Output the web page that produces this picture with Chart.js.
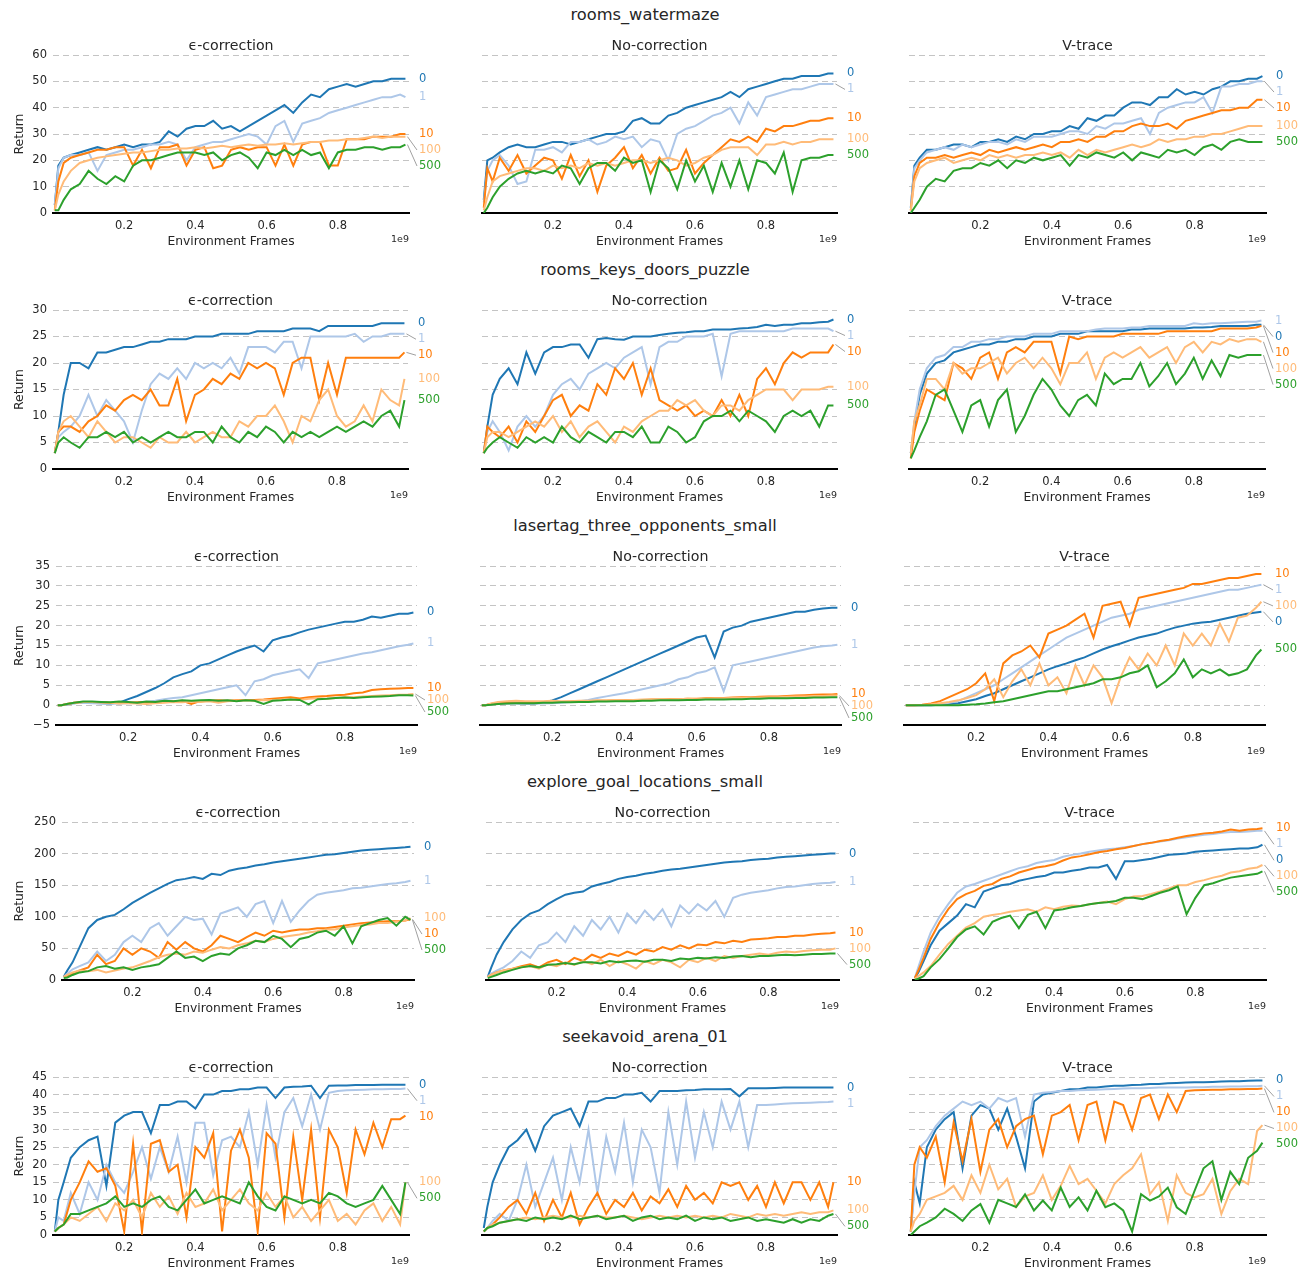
<!DOCTYPE html>
<html><head><meta charset="utf-8">
<script src="https://cdn.jsdelivr.net/npm/chart.js@4.4.0/dist/chart.umd.min.js"></script>
<style>
html,body{margin:0;padding:0;background:#fff;}
#wrap{position:relative;width:1309px;height:1275px;overflow:hidden;font-family:"DejaVu Sans",sans-serif;color:#262626;}
.rowtitle{position:absolute;left:0;width:1290px;text-align:center;font-size:16.3px;line-height:20px;}
canvas{position:absolute;}
</style></head><body><div id="wrap"></div>
<script>
// ---------- data ----------
const X = [0.005,0.015,0.03,0.05,0.075,0.1,0.125,0.15,0.175,0.2,0.225,0.25,0.275,0.3,0.325,0.35,0.375,0.4,0.425,0.45,0.475,0.5,0.525,0.55,0.575,0.6,0.625,0.65,0.675,0.7,0.725,0.75,0.775,0.8,0.825,0.85,0.875,0.9,0.925,0.95,0.975,0.99];
const SERIES = ['0','1','10','100','500'];
const LEVELS = ['rooms_watermaze','rooms_keys_doors_puzzle','lasertag_three_opponents_small','explore_goal_locations_small','seekavoid_arena_01'];
const METHODS = ['\u03f5-correction','No-correction','V-trace'];
const Y_MIN = [0,0,-5,0,0];
const Y_MAX = [60,30,35,250,45];
const Y_STEP = [10,5,5,50,5];
const X_TICKS = [0.2,0.4,0.6,0.8];

const watermaze_eps = [
 [3,18,21,22,23,24,25,24,25,26,25,26,26,27,31,29,32,33,33,35,32,33,31,33,35,37,39,41,38,42,45,44,47,48,49,48,49,50,50,51,51,51],
 [3,17,21,22,22,23,16,22,23,24,24,25,26,26,27,26,20,25,26,27,27,28,29,30,29,26,33,35,27,34,35,36,38,39,40,41,42,43,44,44,45,44],
 [1,12,19,21,22,23,24,24,25,25,18,24,17,25,25,26,18,24,25,17,18,24,25,24,25,25,18,26,18,26,27,27,18,18,28,28,28,29,29,29,30,30],
 [1,7,12,16,19,20,21,21.5,22,22.5,23,23,23.5,24,24,24.5,24.5,25,24.5,25,25.5,25,25.5,26,25.5,26,26,26.5,26,26.5,27,27,27.5,27.5,28,28,28.5,29,28.5,29,29,29],
 [1,1,5,9,11,16,13,11,14,12,18,20,20,21,22,23,23,23,22,23,20,22,23,21,17,23,22,24,22,24,22,23,17,23,24,24,25,25,24,25,25,26]];
const watermaze_noc = [
 [5,20,21,23,25,26,25,25,26,27,27,26,27,28,29,30,30,31,35,36,34,34,37,38,40,41,42,43,44,46,44,47,48,49,50,51,51,52,52,52,53,53],
 [4,16,20,22,18,11,12,24,24,25,23,27,27,28,26,27,29,28,29,25,28,27,20,30,32,33,35,37,38,40,34,42,37,44,45,46,47,47,48,49,49,49],
 [2,17,12,21,16,22,15,18,21,20,13,22,14,20,8,18,21,25,17,22,15,21,16,17,24,15,19,22,25,28,27,29,27,32,31,33,33,34,35,35,36,36],
 [1,6,12,14,15,16,17,17,16,18,17,18,17,19,18,19,18,19,20,20,19,20,21,20,18,19,21,22,24,25,25,25,22,26,26,27,26,27,27,28,28,28],
 [0,2,6,10,13,15,16,15,16,15,18,17,11,17,19,19,16,21,19,20,8,20,17,9,20,12,18,8,19,10,20,9,20,19,15,23,8,20,21,21,22,22]];
const watermaze_vt = [
 [2,18,21,24,24,25,26,26,25,27,27,28,27,29,28,30,30,31,31,33,32,36,35,37,37,40,42,42,41,44,44,47,45,46,45,47,48,50,50,51,51,52],
 [2,17,20,23,24,25,24,26,25,26,27,27,26,28,27,29,29,29,30,31,31,30,33,32,34,34,35,36,30,38,40,41,42,42,44,38,48,48,49,49,50,50],
 [1,14,19,21,21,22,21,22,23,22,24,23,24,25,24,25,26,25,27,27,28,27,29,29,31,31,33,34,33,33,34,32,35,36,37,38,39,39,40,40,43,43],
 [1,12,17,19,20,21,19,20,21,20,22,21,22,21,22,22,23,22,23,21,24,22,24,23,24,25,26,25,26,28,27,28,28,29,29,30,30,31,32,33,33,33],
 [0,2,5,10,13,12,16,17,17,19,18,20,17,20,19,21,20,21,22,18,22,21,23,22,21,23,20,23,22,21,24,23,24,22,25,26,24,27,28,27,27,27]];

const keys_eps = [
 [3,7,14,20,20,19,22,22,22.5,23,23,23.5,24,24,24.5,24.5,24.5,25,25,25,25.5,25.5,25.5,25.5,26,26,26,26,26.5,26.5,26.5,26,27,27,27,27,27,27,27.5,27.5,27.5,27.5],
 [3,6,7,8,10,14,10,13,11,9,5,11,16,18,17,19,17,20,19,20,19,21,18,23,23,23,22,24,24,19,25,25,25,25,25,25.5,24,25,25,25.5,25.5,25.5],
 [3,7,8,8,7,9,10,12,11,13,14,13,15,12,12,17,9,14,15,17,16,18,17,20,19,20,19,14,20,21,21,13,20,14,21,21,21,21,21,21,21,22],
 [3,7,9,10,8,6,9,7,5,6,6,5,4,6,5,5,7,5,6,7,6,6,9,8,10,10,12,9,5,10,9,13,15,10,8,9,12,9,15,13,12,17],
 [3,5,6,5,4,6,6,7,6,7,5,6,5,6,7,6,6,7,7,5,8,6,5,7,6,8,7,5,7,6,7,6,7,8,7,8,9,8,10,11,8,13]];
const keys_noc = [
 [3,8,14,17,19,16,22,18,22,23,23,23.5,23.5,21,24.5,24.7,24.5,24.4,25,25,25,25.3,25.5,25.7,25.8,26,26,26.3,26.3,26.3,26.5,26.6,26.8,27.2,27,27.2,27.2,27.5,27.5,27.7,27.8,28.2],
 [3,7,9,7,3.5,8,10,8,10,14,16,17,15,18,19,20,19,21,22,23,16,23,24,24,25,25,25,25.5,17.5,25.5,26,26,26,26,26,26,26.5,26.5,26.5,26.5,26.5,26],
 [3,8,7,6,8,5,9,7,10,13,14,10,12,11,16,14,19,17,20,14,19,13,12,11,12,10,11,10,13,10,14,10,17,19,16,20,22,21,22,22,22,23.5],
 [3,6,7,7,6,7,8,9,8,10,7,9,6,8,9,7,5,8,7,9,10,11,11,13,12,13,11,10,12,12,11,13,14,15,15,15,13,15,15,15,15.5,15.5],
 [3,4,5,6,5,4,6,5,6,5,8,6,5,7,6,5,7,7,6,8,5,5,8,7,5,6,9,10,10,11,9,11,10,9,7,10,11,10,11,8,12,12]];
const keys_vt = [
 [3,8,14,18,20,20.5,22,22.5,23,23.5,23.5,24,24,24.5,24.5,25,25,25,25.5,25.5,25.5,26,26,26,26,26,26.3,26.3,26.5,26.5,26.5,26.5,26.5,26.7,26.7,26.8,27,27,27,27,27.2,27.2],
 [3,9,15,19,21,21.5,23,23,24,24,24.5,24.5,25,25,25,25.5,25.5,25.5,26,26,26,26,26.3,26.5,26.5,26.5,26.7,26.7,27,27,27,27,27,27.5,27.3,27.5,27.5,27.6,27.7,27.8,27.8,28],
 [2,7,11,15,14,13,20,19,17,21,22,17,22,23,22,24,24,24,18,25,24.5,25,25,25,25,25.5,25.5,25.5,25.5,25.5,26,26,26,26,26,26,26.5,26.5,26.5,26.5,26.7,27],
 [3,9,12,17,17,15,20,18,19,19,20,21,18,20,21,19,21,19,16,20,20,22,17,21,22,21,22,23,21,22,23,20,23,24,22,24,23.5,24.5,24,24.5,24.5,24],
 [2,3.5,6,9,14,15,11,7,12,13,8,13,15,7,10,14,17,15,12,10,13,14,12,18,16,17,17,20,15.6,17.5,20,16,18,21,17,20.5,17.5,21.5,21,21.5,21.5,21.5]];

const laser_eps = [
 [0,0,0.2,0.5,0.7,0.6,0.5,0.4,0.6,1.5,2.3,3.3,4.3,5.5,7,7.8,8.5,10,10.5,11.5,12.5,13.5,14.3,15,13.5,16.3,17,17.5,18.3,19,19.5,20,20.5,21,21,21.5,22.3,22,22.5,23,23,23.3],
 [0,0,0.2,0.5,0.6,0.5,0.4,0.4,0.4,0.5,0.6,0.8,1.1,1.5,1.8,2,2.5,3,3.5,4,4.5,5,2.5,6,6.5,7.5,8,8.5,9,6.8,10.5,11,11.5,12,12.5,13,13.3,13.8,14.3,14.8,15.2,15.5],
 [0,0,0.3,0.6,0.8,0.8,0.7,0.6,0.5,0.6,0.7,0.8,0.8,0.9,1,1.1,0.3,1,1.1,1.2,1.1,1.2,1.3,1.3,1.4,1.6,1.8,2,1.7,2,2.2,2.3,2.5,2.6,3,3.2,3.8,4,4.1,4.2,4.3,4.3],
 [0,0,0.3,0.6,0.8,0.8,0.7,0.6,0.5,0.5,0.4,0.3,0.5,0.6,0.8,0.7,0.9,0.8,1,0.6,1,1.1,1.2,1.1,1.3,1.2,1.4,1.5,1.3,1.6,1.7,1.6,1.8,2,2,2.2,2.3,2.4,2.5,2.6,2.7,2.8],
 [0,0,0.3,0.6,0.9,0.9,0.8,0.7,0.9,0.8,0.6,0.9,0.8,1.1,1,1.2,1.1,1.2,1.3,1.1,1.2,1,1.2,1.1,0.3,1.1,1.2,1.4,1.3,0.2,1.5,1.6,1.8,1.9,1.8,2,2.1,2.2,2.3,2.5,2.5,2.4]];
const laser_noc = [
 [0,0,0.2,0.4,0.5,0.5,0.4,0.4,0.6,1.2,2,3,4,5,6,7,8,9,10,11,12,13,14,15,16,17,17.5,12,18.5,19.5,20,21,21.5,22,22.5,23,23.5,23.5,24,24.3,24.5,24.5],
 [0,0,0.2,0.4,0.5,0.5,0.4,0.4,0.4,0.5,0.6,0.8,1,1.3,1.8,2.2,2.6,3,3.5,4,4.5,5,5.5,6.5,7,8,8.5,9.5,3.5,10,10.5,11,11.5,12,12.5,13,13.5,14,14.5,14.8,15,15.2],
 [0,0,0.3,0.6,0.8,0.9,0.8,0.7,0.8,0.9,0.8,0.9,1,1,1.1,1.1,1.2,1.2,1.3,1.3,1.4,1.4,1.5,1.5,1.6,1.6,1.7,1.8,1.8,1.9,2,2,2.1,2.2,2.2,2.3,2.4,2.5,2.6,2.7,2.7,2.8],
 [0,0,0.4,0.8,1,1.1,1,1,1,1.1,1,1,1.1,1.1,1.2,1.2,1.3,1.2,1.3,1.4,1.4,1.5,1.4,1.5,1.6,1.5,1.6,1.7,1.7,1.8,1.8,1.9,1.9,2,2,2.1,2.2,2.2,2.3,2.3,2.4,2.4],
 [0,0,0.1,0.3,0.4,0.5,0.5,0.5,0.6,0.6,0.7,0.7,0.8,0.8,0.9,0.9,1,1,1,1.1,1.1,1.2,1.2,1.2,1.3,1.3,1.4,1.4,1.4,1.5,1.5,1.6,1.6,1.7,1.7,1.7,1.8,1.8,1.9,1.9,2,2]];
const laser_vt = [
 [0,0,0,0,0,0.1,0.3,0.5,1,1.5,2.3,3,4,5,6,7,8,9,9.8,10.5,11.3,12,13,14,14.8,15.5,16.3,17,17.5,18,18.8,19.5,20,20.5,20.8,21,21.5,22,22.5,23,23.3,23.5],
 [0,0,0,0,0.1,0.3,0.6,1,2,3,4,5,6.5,8,9.5,11,12.5,14,15.5,17,18,19,20,21,22,22.5,23,24,24.5,25,25.5,26,26.5,27,27.5,28,28.5,29,29,29.5,30,30.3],
 [0,0,0,0.1,0.4,1,2,3,4,5.5,8,1,10.5,12.5,13.5,15,12,18,19,20,21.5,23,17,25,25.5,26,20,27,27.5,28,28.5,29,29.5,30.5,30.5,31,31.5,32,32,32.5,33,33],
 [0,0,0,0,0.2,0.5,0.8,1.2,1.8,2.5,4,6.5,2,6,9,5,10.5,5,7,3,10,5,10,7,0.5,7,12,9,13,10,15,10,18,15,18,15,20.5,16,22,22.5,24.5,26],
 [0,0,0,0,0,0,0,0,0.1,0.2,0.4,0.7,1,1.5,2,2.5,3,3.5,3.5,4,4.5,5,5.5,6.5,6.5,7,8,8.5,10,4.5,6,8,11.5,7,9,8,9,7.5,8,9,12.5,14]];

const explore_eps = [
 [5,15,28,52,82,95,100,103,112,122,130,138,145,152,158,160,163,160,168,166,173,176,178,181,183,186,188,190,192,194,196,198,199,201,203,205,206,207,208,209,210,211],
 [5,10,17,22,28,45,30,40,60,70,60,82,90,70,85,100,95,97,72,105,110,115,100,120,125,90,125,92,110,125,135,138,140,142,145,146,148,150,152,153,155,157],
 [5,7,10,15,20,40,25,30,50,40,50,45,35,60,48,60,50,45,55,70,65,60,68,75,70,78,75,78,80,80,82,82,84,86,88,90,91,92,93,93,94,96],
 [5,8,12,15,14,16,12,15,18,20,25,30,36,40,42,40,45,43,48,52,50,55,58,62,60,65,68,70,72,75,77,80,80,83,85,87,88,90,90,92,94,98],
 [3,4,8,12,14,20,22,18,20,16,20,22,25,35,45,35,37,30,38,42,40,50,55,62,60,70,65,52,65,68,75,78,70,85,58,85,90,95,98,86,100,95]];
const explore_noc = [
 [5,20,40,60,80,95,105,110,120,128,135,138,140,148,152,155,160,163,165,168,170,173,175,176,178,180,182,184,186,187,188,190,191,192,194,195,196,197,198,199,200,200],
 [5,10,15,20,30,45,35,55,60,75,60,85,70,95,80,100,75,105,90,110,95,112,85,118,105,120,110,125,100,130,135,138,140,142,145,147,148,150,152,153,154,155],
 [5,8,12,15,18,22,25,20,28,32,25,35,30,40,35,42,38,45,40,48,45,52,48,55,50,56,55,60,58,62,60,64,65,66,68,68,70,70,72,73,74,75],
 [5,8,12,15,18,20,22,18,25,22,28,24,30,25,32,22,30,25,18,30,25,32,28,20,32,28,35,30,38,35,38,40,42,40,43,45,44,46,47,48,48,50],
 [3,5,8,12,16,20,22,20,24,25,27,25,28,28,26,30,28,30,31,29,32,32,30,34,33,35,34,36,35,37,38,36,38,38,39,40,39,40,41,41,42,42]];
const explore_vt = [
 [3,12,30,55,78,90,102,120,115,140,145,150,152,157,160,163,165,170,170,173,175,178,178,182,160,188,188,190,192,195,198,199,200,203,204,205,206,207,208,208,210,214],
 [3,20,45,75,100,120,138,148,152,157,162,167,172,177,180,185,188,190,195,198,200,203,205,207,208,210,212,215,217,219,221,224,226,228,230,231,233,234,234,235,236,236],
 [3,15,35,65,91,112,128,136,141,149,152,160,164,170,174,178,180,183,189,194,196,199,202,204,207,209,212,215,217,220,222,225,228,230,232,233,235,238,236,238,239,240],
 [2,6,12,22,40,57,70,83,90,100,103,105,108,110,112,108,115,112,116,118,117,120,122,124,120,128,132,133,136,140,145,150,150,155,158,162,165,170,172,176,178,182],
 [0,2,6,20,33,50,68,80,85,72,92,98,102,82,103,108,82,110,112,115,117,120,122,123,125,130,130,128,133,138,142,148,104,130,150,153,158,162,164,166,168,172]];

const seek_eps = [
 [1,10,15,22,25,27,28,14,32,34,35,35,29,37,37,38,38,36,40,40,41,41,41.5,41.5,42,42,39,42,42.2,42.3,42.5,39,42.5,42.6,42.6,42.7,42.7,42.7,42.8,42.8,42.8,42.8],
 [1,5,4,12,6,15,10,20,15,12,18,25,16,25,18,28,15,32,32,17,27,28,25,35,20,37,22,35,39,31,40,30,40.5,41,41.2,41.3,41.4,41.5,41.5,41.6,41.6,41.7],
 [1,2,3,10,15,21,18,19,14,1,26,1,26,27,18,20,5,25,22,29,1,24,30,22,1,29,26,5,28,10,30,5,30,25,12,30,23,32,25,33,33,34],
 [1,2,3,5,4,6,8,4,9,7,10,5,12,8,11,6,12,8,9,13,7,10,13,9,7,12,8,11,5,8,4,7,10,4,6,3,7,9,4,8,3,15],
 [1,2,3,6,6,7,8,9,11,8,9,8,10,11,8,7,10,13,9,10,11,10,9,15,11,8,7,11,10,9,10,9,12,11,9,8,9,10,14,10,6,15]];
const seek_noc = [
 [2,8,15,20,25,27,30,24,31,34,35,36,31,38,38,39,39,40,40,40.5,38,41,41,41,41.2,41.3,41.5,41.5,41.5,41.6,39.5,41.8,41.8,41.8,41.9,42,42,42,42,42,42,42],
 [1,2,4,6,4,10,20,8,15,22,10,25,15,30,12,28,18,32,15,30,25,12,35,20,38,22,35,25,38,30,38,25,37,37,37.2,37.4,37.5,37.6,37.7,37.8,37.9,38],
 [1,2,3,5,8,10,6,12,4,10,5,12,3,8,12,6,10,8,12,7,11,9,13,8,14,10,12,9,15,14,15,10,14,8,15,9,15,15,10,15,8,15],
 [1,2,3,3.5,4,4.5,5,4.5,5,5.5,5,5,5.5,5,5.5,5,5,5.5,5,4.5,5,5.5,5,5.5,5,5.5,5,5.5,5,6,5.5,5,6,5.5,6,5.5,6,6.5,6,6.5,6.5,7],
 [1,2,2.5,3.5,4,4.5,4,5,4.5,5,4.5,5.5,4.5,5,5.5,4.5,5,5.5,4,5,5.5,4.5,5,4.5,5.5,4,5,4.5,5,4,4.5,5,4,4.5,4,3.5,4.5,3.5,4.5,4,5.5,6]];
const seek_vt = [
 [1,15,9,25,30,33,35,19,34,37,36,30,36,28,19,38,40,40.5,41,41.5,41.5,42,42,42.3,42.5,42.5,42.7,42.8,43,43,43.2,43.3,43.4,43.5,43.5,43.6,43.7,43.8,43.8,43.9,44,44],
 [1,12,25,27,31,34,36,38,37,38,36,39,38,39,28,40,40.5,40.7,41,41,41.2,41.3,41.4,41.5,41.6,41.7,41.8,41.8,41.9,42,42,42,42,42.1,42.1,42.2,42.2,42.3,42.3,42.4,42.4,42.5],
 [1,20,25,22,28,15,32,21,33,18,30,33,25,31,33,34,23,34,35,37,27,37,38,27,38,37,30,39,40,33,40,35,41,41.2,41.3,41.4,41.4,41.5,41.5,41.6,41.6,41.7],
 [1,4,6,10,11,12,14,10,17,12,20,13,16,8,11,12,17,10,14,19.7,14.5,16,12.6,9,14.5,17,19,23,11.6,15,4,17,12,10.7,11.6,16,6,12.5,16,14.5,29.6,31.3],
 [0,1,2.5,3.5,5,7.5,6,4,7,8.8,3.5,10,9,8,11.6,7,9.8,7,13.5,8,10.7,7,12.6,7.9,9,7,1,11.6,9.8,11,13.5,7.9,6,12.6,19,21,10,18,14.5,22,24,26.3]];

const PANELS = [
 [watermaze_eps, watermaze_noc, watermaze_vt],
 [keys_eps, keys_noc, keys_vt],
 [laser_eps, laser_noc, laser_vt],
 [explore_eps, explore_noc, explore_vt],
 [seek_eps, seek_noc, seek_vt]];

// ---------- layout & style ----------
const COLORS = ['#1f77b4','#aec7e8','#ff7f0e','#ffbb78','#2ca02c'];
const ROW_TOP = [55,310,566,822,1077];
const ROW_BOTTOM = [213,469,725,980,1235];
const COL_BOUNDS = [
 [[53,409],[482,837],[909,1266]],
 [[53,408],[482,837],[909,1265]],
 [[56,417],[480,841],[904,1265]],
 [[62,414],[486,839],[913,1266]],
 [[53,409],[482,837],[909,1266]]];
const LABEL_GAP = [[16,16,16],[16,16,16],[12,12,16],[16,16,16],[16,16,16]];
const ML0 = 48, ML = 4, MT = 30, MR = 48, MB = 40;
const FONT = '"DejaVu Sans", sans-serif';
const TXT = '#262626';

Chart.defaults.font.family = FONT;
Chart.defaults.font.size = 11.5;
Chart.defaults.color = TXT;

const decor = {
  id: 'decor',
  afterDatasetsDraw(chart, args, o) {
    const {ctx, chartArea: a, scales} = chart;
    const items = chart.data.datasets.map(ds => {
      const last = ds.data[ds.data.length - 1];
      return {text: ds.label, color: ds.borderColor,
              px: scales.x.getPixelForValue(last.x), py: scales.y.getPixelForValue(last.y)};
    }).sort((p, q) => p.py - q.py);
    let prev = -1e9;
    items.forEach(it => { it.ly = Math.max(it.py, prev + o.gap); prev = it.ly; });
    ctx.save();
    ctx.font = '11.5px ' + FONT;
    ctx.textAlign = 'left';
    ctx.textBaseline = 'middle';
    items.forEach(it => {
      if (Math.abs(it.ly - it.py) > 2) {
        ctx.strokeStyle = '#a0a0a0';
        ctx.lineWidth = 1;
        ctx.beginPath();
        ctx.moveTo(it.px + 2, it.py);
        ctx.lineTo(a.right + 8, it.ly);
        ctx.stroke();
      }
      ctx.fillStyle = it.color;
      ctx.fillText(it.text, a.right + 10, it.ly);
    });
    ctx.restore();
  },
  afterDraw(chart, args, o) {
    const {ctx, chartArea: a} = chart;
    const cx = (a.left + a.right) / 2;
    ctx.save();
    ctx.fillStyle = TXT;
    ctx.textBaseline = 'middle';
    ctx.textAlign = 'center';
    ctx.font = '14.2px ' + FONT;
    ctx.fillText(o.subtitle, cx, a.top - 9);
    ctx.font = '12.3px ' + FONT;
    ctx.fillText('Environment Frames', cx, a.bottom + 29);
    ctx.font = '9.5px ' + FONT;
    ctx.textAlign = 'right';
    ctx.fillText('1e9', a.right, a.bottom + 27);
    if (o.yTitle) {
      ctx.translate(o.yTitleX, (a.top + a.bottom) / 2);
      ctx.rotate(-Math.PI / 2);
      ctx.textAlign = 'center';
      ctx.font = '12.3px ' + FONT;
      ctx.fillText('Return', 0, 0);
    }
    ctx.restore();
  }
};

const wrap = document.getElementById('wrap');
LEVELS.forEach((lvl, r) => {
  const t = document.createElement('div');
  t.className = 'rowtitle';
  t.style.top = (ROW_TOP[r] - 40 - 10) + 'px';
  t.textContent = lvl;
  wrap.appendChild(t);

  for (let c = 0; c < 3; c++) {
    const [pl, pr] = COL_BOUNDS[r][c];
    const pt = ROW_TOP[r], pb = ROW_BOTTOM[r];
    const left = c === 0 ? ML0 : ML;
    const cv = document.createElement('canvas');
    const W = (pr - pl) + left + MR, H = (pb - pt) + MT + MB;
    cv.width = W; cv.height = H;
    cv.style.width = W + 'px'; cv.style.height = H + 'px';
    cv.style.left = (pl - left) + 'px';
    cv.style.top = (pt - MT) + 'px';
    wrap.appendChild(cv);

    const datasets = SERIES.map((s, i) => ({
      label: s,
      data: X.map((x, k) => ({x: x, y: PANELS[r][c][i][k]})),
      borderColor: COLORS[i],
      backgroundColor: COLORS[i],
      borderWidth: 2,
      pointRadius: 0,
      tension: 0,
      fill: false,
      order: SERIES.length - i
    }));
    const ymin = Y_MIN[r];
    new Chart(cv, {
      type: 'line',
      data: {datasets},
      plugins: [decor],
      options: {
        responsive: false,
        animation: false,
        events: [],
        layout: {padding: {left: c === 0 ? 0 : ML, right: MR, top: MT, bottom: 0}},
        plugins: {
          legend: {display: false},
          tooltip: {enabled: false},
          decor: {subtitle: METHODS[c], yTitle: c === 0, yTitleX: 20 - (pl - left), gap: LABEL_GAP[r][c]}
        },
        scales: {
          x: {
            type: 'linear', min: 0, max: 1,
            afterBuildTicks: sc => { sc.ticks = X_TICKS.map(v => ({value: v})); },
            afterFit: sc => { sc.height = MB; },
            grid: {display: false, drawTicks: false},
            border: {display: true, color: '#000', width: 2},
            ticks: {padding: 6, maxRotation: 0, autoSkip: false, color: TXT,
                    font: {size: 11.5}, callback: v => Number(v).toFixed(1)}
          },
          y: {
            type: 'linear', min: Y_MIN[r], max: Y_MAX[r],
            afterFit: sc => { sc.width = c === 0 ? ML0 : 0; },
            grid: {drawTicks: false, lineWidth: 1,
                   color: ctx => (ctx.tick && ctx.tick.value === ymin) ? 'rgba(0,0,0,0)' : '#c4c4c4'},
            border: {display: false, dash: [6, 4]},
            ticks: {display: c === 0, stepSize: Y_STEP[r], padding: 6, color: TXT, font: {size: 11.5},
                    callback: v => v < 0 ? '\u2212' + Math.abs(v) : String(v)}
          }
        }
      }
    });
  }
});
</script></body></html>
